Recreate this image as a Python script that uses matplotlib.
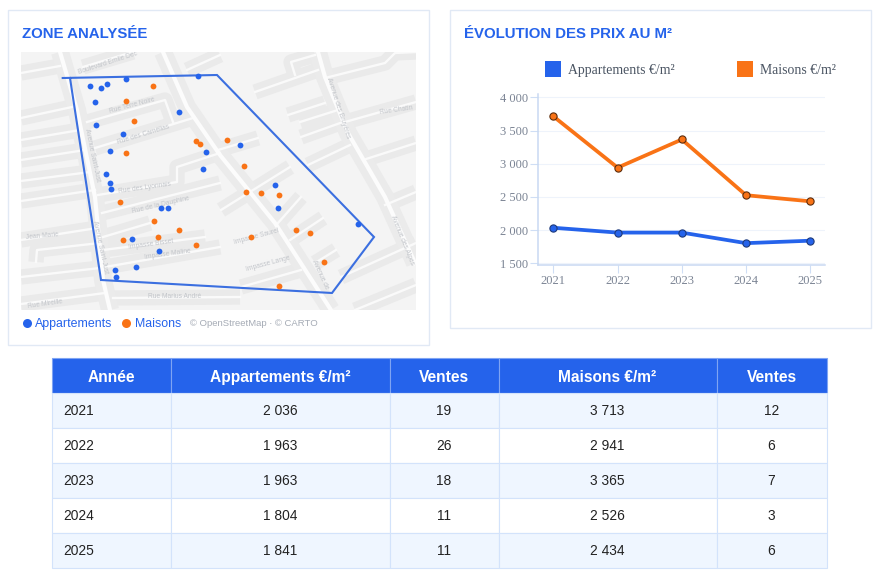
#!/usr/bin/env python3
"""Prix au m2 - zone analysée, évolution et tableau"""

import matplotlib
matplotlib.use('Agg')
import matplotlib.pyplot as plt
from matplotlib.patches import Rectangle

W, H = 880, 574

BLUE = '#2563eb'
ORANGE = '#f97316'

# Données du graphique et du tableau
annees = [2021, 2022, 2023, 2024, 2025]
prix_appart = [2036, 1963, 1963, 1804, 1841]
prix_maison = [3713, 2941, 3365, 2526, 2434]
ventes_appart = [19, 26, 18, 11, 11]
ventes_maison = [12, 6, 7, 3, 6]
colonnes = ['Année', 'Appartements €/m²', 'Ventes', 'Maisons €/m²', 'Ventes']
y_ticks = [1500, 2000, 2500, 3000, 3500, 4000]

# Carte : coordonnées
ventes_appart_xy = [
    (126, 78.7), (198, 75.7), (89.7, 85.7), (101, 88), (106.7, 84.3), (95, 102.3),
    (179, 112), (96.3, 125), (123, 134.3), (110, 151), (205.7, 151.7), (202.7, 169.3),
    (105.7, 173.7), (110, 183), (111.3, 189), (161.3, 208.3), (168, 208.3), (131.7, 239),
    (158.7, 251.3), (136, 266.7), (115, 270), (116, 277.3), (240.3, 144.7),
    (274.7, 184.7), (278.3, 208.3), (358, 224.3),
]
ventes_maison_xy = [
    (153, 85.7), (126, 100.7), (134, 121.3), (126, 152.7), (196.3, 141), (200, 143.7),
    (227, 140.3), (243.7, 166), (119.7, 202.3), (153.7, 221.3), (179, 230.3),
    (157.7, 236.7), (123, 240.3), (196.3, 244.7), (245.7, 192.3), (260.7, 193),
    (279, 195.3), (251, 237), (295.7, 230), (309.7, 233.3), (324, 262), (279, 286),
]
zone_xy = [(62.7, 78), (217, 75), (374, 237), (332, 293), (101, 280), (70, 78)]

grands_axes = [
    [(60, 52), (77, 110), (95, 197), (103, 280), (110, 310)],
    [(163, 52), (187, 107), (220, 155), (275, 223), (331, 310)],
    [(318, 52), (325, 77), (348, 133), (385, 197), (415, 263)],
]
rues = [
    [(21, 73), (60, 66)], [(21, 118), (72, 107)], [(21, 140), (80, 130)],
    [(21, 160), (85, 150)], [(21, 181), (90, 172)], [(21, 201), (95, 190)],
    [(21, 240), (97, 228)], [(36, 262), (37, 250), (100, 243)],
    [(21, 277), (100, 268)], [(21, 304), (105, 293)],
    [(87, 122), (165, 100), (173, 122)], [(95, 148), (193, 118)],
    [(98, 195), (177, 182), (177, 167), (220, 153)], [(102, 213), (220, 183)],
    [(218, 150), (258, 138)], [(221, 210), (290, 167)], [(103, 237), (150, 223)],
    [(103, 250), (205, 237)], [(105, 267), (220, 247)], [(241, 287), (301, 270)],
    [(113, 298), (240, 297)], [(278, 223), (301, 197)], [(290, 240), (323, 218)],
    [(315, 263), (336, 250)], [(308, 165), (350, 145)], [(301, 137), (343, 122)],
    [(300, 122), (338, 110)], [(288, 115), (325, 103)], [(255, 92), (318, 70)],
    [(295, 75), (291, 62), (315, 55)], [(325, 78), (385, 63), (395, 53), (416, 52)],
    [(345, 122), (416, 102)], [(363, 160), (416, 143)], [(385, 205), (416, 192)],
    [(341, 277), (416, 243)], [(355, 310), (416, 285)], [(83, 67), (133, 52)],
    [(187, 70), (220, 55)],
]
noms_rues = [
    ('Boulevard Emile Dec', 108, 63, 18), ('Rue Terre Noire', 132, 106, 15),
    ('Rue des Camélias', 143, 135, 17), ('Rue des Lyonnais', 145, 188, 8),
    ('Rue de la Dauphine', 161, 205, 13), ('Impasse Bisset', 151, 244, 8),
    ('Impasse Maline', 168, 254, 8), ('Impasse Saurel', 256, 237, 15),
    ('Impasse Lange', 268, 264, 15), ('Rue Marius André', 175, 297, 0),
    ('Jean Marie', 42, 236, 5), ('Rue Mireille', 45, 304, 8),
    ('Rue Chatin', 396, 110, 8), ('Avenue Saint-Just', 92, 155, -78),
    ('Avenue Saint-Just', 100, 247, -78), ('Avenue des Bruyères', 338, 108, -72),
    ('Avenue des Alpes', 402, 240, -68), ('Avenue de', 320, 275, -65),
]


def px_axes(fig, left, top, right, bottom):
    """Axes placés en pixels de l'image"""
    return fig.add_axes([left / W, 1 - bottom / H, (right - left) / W, (bottom - top) / H])


def fmt(v):
    return f'{v:,}'.replace(',', ' ')


fig = plt.figure(figsize=(W / 100, H / 100), dpi=100, facecolor='white')
plt.rcParams['font.family'] = ['Liberation Sans', 'DejaVu Sans']

# Calque en pixels : panneaux, titres, légendes
bg = px_axes(fig, 0, 0, W, H)
bg.set_xlim(0, W)
bg.set_ylim(H, 0)
bg.axis('off')
for x0, y0, x1, y1 in [(8, 10, 429, 345), (450, 10, 871, 328)]:
    bg.add_patch(Rectangle((x0, y0), x1 - x0, y1 - y0, fc='white', ec='#e1e9f5', lw=1.0))
bg.text(21.5, 33.5, 'ZONE ANALYSÉE', color=BLUE, fontsize=10.8, fontweight='bold', va='center')
bg.text(464, 33.5, 'ÉVOLUTION DES PRIX AU M²', color=BLUE, fontsize=10.8, fontweight='bold', va='center')

# Légende de la carte
bg.plot([26.7], [322.7], 'o', ms=6.5, color=BLUE, mew=0)
bg.text(35, 323.7, 'Appartements', color=BLUE, fontsize=8.9, va='center')
bg.plot([126], [322.7], 'o', ms=6.5, color=ORANGE, mew=0)
bg.text(135, 323.7, 'Maisons', color=BLUE, fontsize=8.9, va='center')
bg.text(190, 324, '© OpenStreetMap · © CARTO', color='#a5abb5', fontsize=6.8, va='center')

# Légende du graphique
serif = ['Liberation Serif', 'DejaVu Serif']
bg.add_patch(Rectangle((544.5, 60.5), 16, 16, fc=BLUE, ec='none'))
bg.text(567.5, 70.5, 'Appartements €/m²', color='#4b5563', fontsize=9.9, family=serif, va='center')
bg.add_patch(Rectangle((737, 60.5), 16, 16, fc=ORANGE, ec='none'))
bg.text(760, 70.5, 'Maisons €/m²', color='#4b5563', fontsize=9.9, family=serif, va='center')

# Carte
mp = px_axes(fig, 21, 52, 416, 310)
mp.set_xlim(21, 416)
mp.set_ylim(310, 52)
mp.set_facecolor('#f4f4f4')
mp.set_xticks([])
mp.set_yticks([])
for s in mp.spines.values():
    s.set_visible(False)
for r in rues:
    mp.plot(*zip(*r), color='#eaeaea', lw=11, solid_capstyle='butt', zorder=1)
for r in grands_axes:
    mp.plot(*zip(*r), color='#ebebeb', lw=13, solid_capstyle='butt', zorder=1)
for r in rues:
    mp.plot(*zip(*r), color='#fafafa', lw=1.7, zorder=2)
for r in grands_axes:
    mp.plot(*zip(*r), color='#fcfcfc', lw=3, zorder=3)
for nom, x, y, rot in noms_rues:
    mp.text(x, y, nom, color='#c2c5ca', fontsize=4.8, rotation=rot, rotation_mode='anchor',
            ha='center', va='center', zorder=4, clip_on=True)
mp.plot(*zip(*zone_xy), color='#3b6fe0', lw=1.5, zorder=5, solid_joinstyle='miter')
mp.plot(*zip(*ventes_appart_xy), 'o', color=BLUE, ms=4.2, mew=0, zorder=6)
mp.plot(*zip(*ventes_maison_xy), 'o', color=ORANGE, ms=4.2, mew=0, zorder=6)

# Graphique
ax = px_axes(fig, 538, 94, 825, 265)
ax.set_xlim(2020.76, 2025.23)
ax.set_ylim(1475, 4050)
ax.plot(annees, prix_appart, '-o', color=BLUE, lw=2.7, ms=5.2, mfc=BLUE, mec='#1e3a7a', mew=0.8, zorder=3)
ax.plot(annees, prix_maison, '-o', color=ORANGE, lw=2.7, ms=5.2, mfc=ORANGE, mec='#5c2c0c', mew=0.8, zorder=3)
ax.set_xticks(annees)
ax.set_yticks(y_ticks)
ax.set_yticklabels([fmt(v) for v in y_ticks])
ax.grid(axis='y', color='#eef3fb', lw=0.8)
ax.set_axisbelow(True)
ax.tick_params(colors='#7b8494', length=5.5, width=0.8, color='#cfdef5', labelsize=9, pad=1.7)
for lab in ax.get_xticklabels() + ax.get_yticklabels():
    lab.set_family(serif)
ax.spines['top'].set_visible(False)
ax.spines['right'].set_visible(False)
ax.spines['left'].set_color('#c9d9f2')
ax.spines['bottom'].set_color('#c9d9f2')
ax.spines['left'].set_linewidth(1.1)
ax.spines['bottom'].set_linewidth(1.1)

# Tableau
tb = px_axes(fig, 52, 358.5, 826.5, 568)
tb.axis('off')
lignes = [[str(a), fmt(pa), str(va), fmt(pm), str(vm)]
          for a, pa, va, pm, vm in zip(annees, prix_appart, ventes_appart, prix_maison, ventes_maison)]
largeurs = [119, 218.5, 109, 218, 110]
total = sum(largeurs)
table = tb.table(cellText=[colonnes] + lignes, colWidths=[l / total for l in largeurs],
                 cellLoc='center', bbox=[0, 0, 1, 1])
table.auto_set_font_size(False)
for (row, col), cell in table.get_celld().items():
    cell.set_linewidth(0.8)
    txt = cell.get_text()
    if row == 0:
        cell.set_facecolor(BLUE)
        cell.set_edgecolor('#7fa4f3')
        txt.set_color('white')
        txt.set_fontweight('bold')
        txt.set_fontsize(11.2)
        txt.set_va('center_baseline')
    else:
        cell.set_facecolor('#eff6ff' if row % 2 == 1 else 'white')
        cell.set_edgecolor('#d3e3fb')
        txt.set_color('#222222')
        txt.set_fontsize(9.9)
        if col == 0:
            txt.set_ha('left')
            cell.PAD = 11.5 / 119

fig.savefig('out.png', dpi=100)
plt.close(fig)
